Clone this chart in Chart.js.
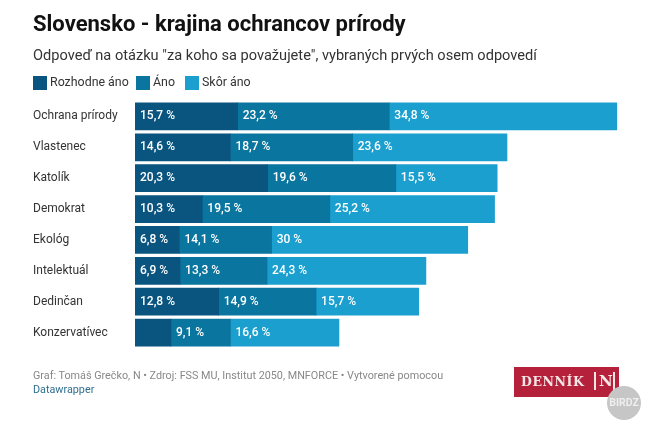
<!DOCTYPE html>
<html lang="sk">
<head>
<meta charset="utf-8">
<title>Slovensko - krajina ochrancov prírody</title>
<script src="https://cdn.jsdelivr.net/npm/chart.js@4"></script>
<style>
  html, body { margin: 0; background: #fff; }
  body { position: relative; width: 668px; height: 433px; overflow: hidden; font-family: Roboto, sans-serif; }
  #chart { position: absolute; left: 0; top: 0; }
  .abs { position: absolute; white-space: nowrap; }
  #title { left: 33px; top: 9px; font-size: 22px; font-weight: 700; color: #111; line-height: 30px; }
  #sub { left: 33px; top: 45px; font-size: 14.6px; color: #333; line-height: 20px; }
  .sw { position: absolute; top: 76px; width: 14px; height: 14px; }
  .lg { top: 74px; font-size: 12.4px; color: #333; line-height: 16px; }
  #foot { left: 33px; top: 369px; font-size: 10.8px; color: #888; line-height: 13.5px; }
  #foot span { color: #2f6f8f; }
  #logo { left: 514px; top: 367px; width: 105px; height: 30px; background: #b5203a; color: #f6e6e6;
          font-family: "DejaVu Serif", serif; font-weight: 700; font-size: 12.5px; letter-spacing: .6px; line-height: 30px; text-indent: 7px; }
  #logo b { position: absolute; left: 80px; top: 5px; width: 17px; height: 18px; border: 1px solid #f6e6e6; border-width: 0 2px; font-size: 15px; line-height: 18px; text-indent: 3px; letter-spacing: 0; }
  #mark { left: 607px; top: 386px; width: 34px; height: 34px; border-radius: 50%; background: #c6c6c6; color: #eee; font-size: 10.5px; font-weight: 700; line-height: 34px; text-align: center; }
</style>
</head>
<body>
<canvas id="chart" width="668" height="433"></canvas>
<div class="abs" id="title">Slovensko - krajina ochrancov prírody</div>
<div class="abs" id="sub">Odpoveď na otázku "za koho sa považujete", vybraných prvých osem odpovedí</div>
<div class="sw" style="left:33px;background:#0a5580"></div><div class="abs lg" style="left:50px">Rozhodne áno</div>
<div class="sw" style="left:136px;background:#0a76a0"></div><div class="abs lg" style="left:153px">Áno</div>
<div class="sw" style="left:185px;background:#1b9fcf"></div><div class="abs lg" style="left:202px">Skôr áno</div>
<div class="abs" id="foot">Graf: Tomáš Grečko, N • Zdroj: FSS MU, Institut 2050, MNFORCE • Vytvorené pomocou<br><span>Datawrapper</span></div>
<div class="abs" id="logo">DENNÍK<b>N</b></div>
<div class="abs" id="mark">BIRDZ</div>
<script>
// Data
const categories = ['Ochrana prírody', 'Vlastenec', 'Katolík', 'Demokrat', 'Ekológ', 'Intelektuál', 'Dedinčan', 'Konzervatívec'];
const rozhodne = [15.7, 14.6, 20.3, 10.3, 6.8, 6.9, 12.8, 5.5];
const ano = [23.2, 18.7, 19.6, 19.5, 14.1, 13.3, 14.9, 9.1];
const skor = [34.8, 23.6, 15.5, 25.2, 30, 24.3, 15.7, 16.6];

const fmt = v => String(v).replace('.', ',') + ' %';

// labels inside the bars, first segment of the last row stays unlabelled in the original
const barLabels = {
  id: 'barLabels',
  afterDatasetsDraw(chart){
    const c = chart.ctx;
    c.save();
    c.font = '500 12px Roboto';
    c.fillStyle = '#fff';
    c.textBaseline = 'middle';
    chart.data.datasets.forEach((ds, i) => {
      chart.getDatasetMeta(i).data.forEach((bar, j) => {
        if(ds.data[j] < 6) return;
        c.fillText(fmt(ds.data[j]), bar.base + 5, bar.y);
      });
    });
    c.restore();
  }
};

new Chart(document.getElementById('chart'), {
  type: 'bar',
  data: {
    labels: categories,
    datasets: [
      { label: 'Rozhodne áno', data: rozhodne, backgroundColor: '#0a5580' },
      { label: 'Áno', data: ano, backgroundColor: '#0a76a0' },
      { label: 'Skôr áno', data: skor, backgroundColor: '#1b9fcf' }
    ]
  },
  options: {
    indexAxis: 'y',
    responsive: false,
    animation: false,
    barThickness: 27,
    layout: { padding: { left: 33, top: 101, right: 10, bottom: 85 } },
    plugins: { legend: { display: false }, tooltip: { enabled: false } },
    scales: {
      x: { stacked: true, min: 0, max: 80, display: false },
      y: {
        stacked: true,
        grid: { display: false },
        border: { display: false },
        afterFit(a){ a.width = 102; },
        ticks: { crossAlign: 'far', padding: 0, color: '#333', font: { family: 'Roboto', size: 12 } }
      }
    }
  },
  plugins: [barLabels]
});
</script>
</body>
</html>
